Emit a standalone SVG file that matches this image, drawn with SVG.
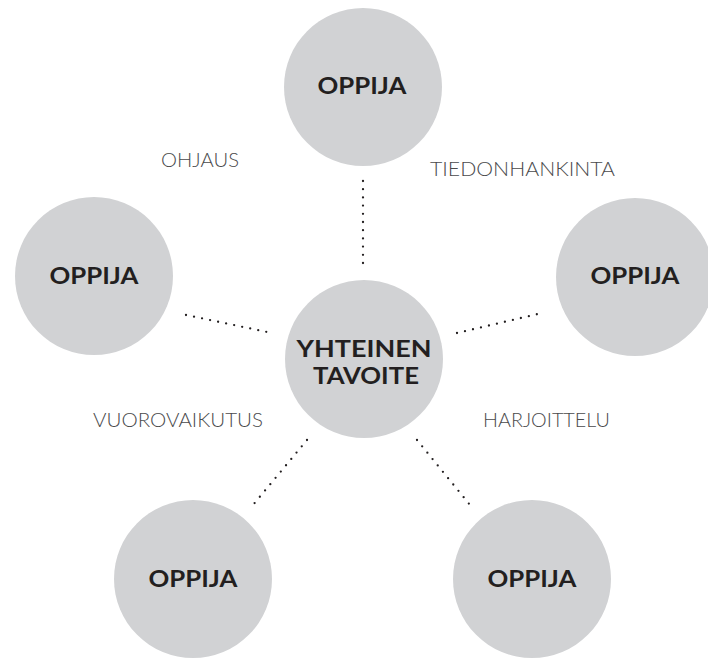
<svg xmlns="http://www.w3.org/2000/svg" width="708" height="659" viewBox="0 0 708 659">
  <style>
    .bubble { fill: #d1d2d4; }
    .name { font-family: Lato, "Open Sans", "Liberation Sans", sans-serif; font-weight: 700; font-size: 22px; fill: #231f20; text-anchor: middle; }
    .label { font-family: Lato, "Open Sans", "Liberation Sans", sans-serif; font-weight: 300; font-size: 19px; fill: #4a4a4c; }
    .link { stroke: #231f20; stroke-width: 2.3; stroke-linecap: round; stroke-dasharray: 0 8.2; fill: none; }
  </style>
  <rect width="708" height="659" fill="#ffffff"/>

  <g id="connectors">
    <line class="link" x1="363" y1="181" x2="363" y2="264"/>
    <line class="link" x1="186" y1="315" x2="267" y2="332"/>
    <line class="link" x1="457" y1="333" x2="538" y2="314"/>
    <line class="link" x1="307" y1="440" x2="253" y2="505"/>
    <line class="link" x1="417" y1="440" x2="470" y2="505"/>
  </g>

  <g id="goal">
    <circle class="bubble" cx="364" cy="359" r="79"/>
    <text class="name" x="364" y="357" textLength="135" lengthAdjust="spacingAndGlyphs">YHTEINEN</text>
    <text class="name" x="366" y="384" textLength="106" lengthAdjust="spacingAndGlyphs">TAVOITE</text>
  </g>

  <g id="learner-top">
    <circle class="bubble" cx="363" cy="87" r="79"/>
    <text class="name" x="362" y="94" textLength="89" lengthAdjust="spacingAndGlyphs">OPPIJA</text>
  </g>
  <g id="learner-left">
    <circle class="bubble" cx="94" cy="276" r="79"/>
    <text class="name" x="94" y="284" textLength="89" lengthAdjust="spacingAndGlyphs">OPPIJA</text>
  </g>
  <g id="learner-right">
    <circle class="bubble" cx="635" cy="277" r="79"/>
    <text class="name" x="635" y="284" textLength="89" lengthAdjust="spacingAndGlyphs">OPPIJA</text>
  </g>
  <g id="learner-bottom-left">
    <circle class="bubble" cx="193" cy="579" r="79"/>
    <text class="name" x="193" y="587" textLength="89" lengthAdjust="spacingAndGlyphs">OPPIJA</text>
  </g>
  <g id="learner-bottom-right">
    <circle class="bubble" cx="532" cy="579" r="79"/>
    <text class="name" x="532" y="587" textLength="89" lengthAdjust="spacingAndGlyphs">OPPIJA</text>
  </g>

  <g id="labels">
    <text class="label" x="161" y="167" textLength="78" lengthAdjust="spacingAndGlyphs">OHJAUS</text>
    <text class="label" x="430" y="176" textLength="185" lengthAdjust="spacingAndGlyphs">TIEDONHANKINTA</text>
    <text class="label" x="93" y="427" textLength="170" lengthAdjust="spacingAndGlyphs">VUOROVAIKUTUS</text>
    <text class="label" x="483" y="427" textLength="127" lengthAdjust="spacingAndGlyphs">HARJOITTELU</text>
  </g>
</svg>
